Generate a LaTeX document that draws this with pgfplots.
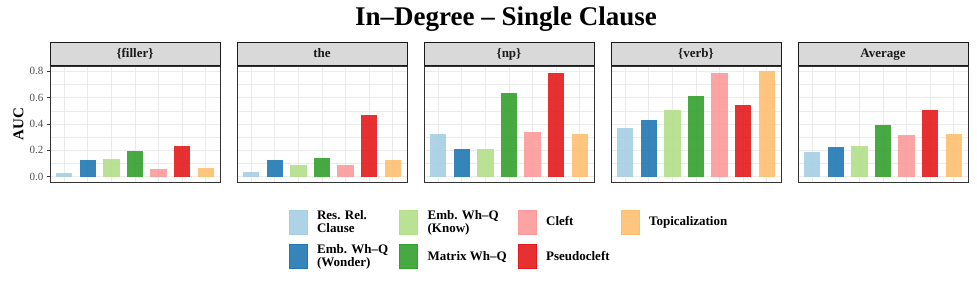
\documentclass[border=0pt]{standalone}
\usepackage{pgfplots}
\pgfplotsset{compat=1.18}
\usepackage{fontspec}
\setmainfont{Liberation Serif}
\definecolor{c1}{HTML}{A6CEE3}
\definecolor{c2}{HTML}{1F78B4}
\definecolor{c3}{HTML}{B2DF8A}
\definecolor{c4}{HTML}{33A02C}
\definecolor{c5}{HTML}{FB9A99}
\definecolor{c6}{HTML}{E31A1C}
\definecolor{c7}{HTML}{FDBF6F}
\definecolor{grey92}{HTML}{EBEBEB}
\definecolor{grey20}{HTML}{333333}
\definecolor{grey30}{HTML}{4D4D4D}
\definecolor{grey10}{HTML}{1A1A1A}
\definecolor{stripfill}{HTML}{D9D9D9}
\pgfplotsset{
  panel/.style={
    width=170pt, height=116pt, scale only axis, anchor=south west,
    xmin=0.4, xmax=7.6, ymin=-0.04, ymax=0.84,
    xtick={1,...,7}, xticklabels={}, xtick style={draw=none},
    ytick={0,0.2,0.4,0.6,0.8}, minor ytick={0.1,0.3,0.5,0.7},
    minor tick length=0pt, minor tick style={draw=none},
    grid=both,
    major grid style={draw=grey92, line width=0.9pt},
    minor grid style={draw=grey92, line width=0.45pt},
    axis line style={draw=grey20, line width=0.6pt},
    tick pos=left, tick align=outside, major tick length=3pt,
    /pgf/number format/assume math mode=true,
    every axis title shift=0pt,
    title style={at={(0.5,1)}, anchor=south, draw=grey10, line width=0.9pt,
      fill=stripfill, minimum width=170pt, minimum height=23pt, inner sep=0pt,
      text height=9pt, text depth=2.5pt, text=grey10,
      font=\fontsize{13}{14}\selectfont\bfseries, yshift=0pt},
  },
  bar/.style={ybar, bar width=0.7, bar shift=0pt, draw=none, fill=#1, fill opacity=0.9, forget plot},
  lk/.style={legend image code/.code={\fill[#1, fill opacity=0.9] (0pt,-12pt) rectangle (18pt,12pt);}},
}
\newcommand\bars[7]{%
  \addplot[bar=c1] coordinates {(1,#1)};
  \addplot[bar=c2] coordinates {(2,#2)};
  \addplot[bar=c3] coordinates {(3,#3)};
  \addplot[bar=c4] coordinates {(4,#4)};
  \addplot[bar=c5] coordinates {(5,#5)};
  \addplot[bar=c6] coordinates {(6,#6)};
  \addplot[bar=c7] coordinates {(7,#7)};
}
\begin{document}
\begin{tikzpicture}
\useasboundingbox (0,0) rectangle (977pt,285pt);
% panel 1
\begin{axis}[panel, at={(50pt,103pt)}, title={\{filler\}},
  ytick style={draw=grey20, line width=0.7pt},
  yticklabel style={font=\fontsize{11}{11}\selectfont, text=grey30,
    /pgf/number format/.cd, fixed, fixed zerofill, precision=1}]
\bars{0.025}{0.125}{0.135}{0.197}{0.059}{0.235}{0.066}
\end{axis}
% panel 2
\begin{axis}[panel, at={(237pt,103pt)}, title={the},
  yticklabels={}, ytick style={draw=none}]
\bars{0.036}{0.125}{0.092}{0.141}{0.092}{0.465}{0.128}
\end{axis}
% panel 3
\begin{axis}[panel, at={(424pt,103pt)}, title={\{np\}},
  yticklabels={}, ytick style={draw=none},
  legend style={at={(0.5,-0.225)}, anchor=north, draw=none, fill=none,
    font=\fontsize{13}{13}\selectfont\bfseries, text=black,
    cells={anchor=west, align=left},
    /tikz/every odd column/.append style={column sep=8pt},
    /tikz/every even column/.append style={column sep=9pt},
    row sep=7pt, inner sep=0pt},
  legend columns=4, legend cell align=left]
\bars{0.325}{0.21}{0.212}{0.639}{0.343}{0.787}{0.322}
\addlegendimage{lk=c1}\addlegendentry{Res. Rel.\\Clause}
\addlegendimage{lk=c3}\addlegendentry{Emb. Wh--Q\\(Know)}
\addlegendimage{lk=c5}\addlegendentry{Cleft}
\addlegendimage{lk=c7}\addlegendentry{Topicalization}
\addlegendimage{lk=c2}\addlegendentry{Emb. Wh--Q\\(Wonder)}
\addlegendimage{lk=c4}\addlegendentry{Matrix Wh--Q}
\addlegendimage{lk=c6}\addlegendentry{Pseudocleft}
\addlegendimage{empty legend}\addlegendentry{}
\end{axis}
% panel 4
\begin{axis}[panel, at={(611pt,103pt)}, title={\{verb\}},
  yticklabels={}, ytick style={draw=none}]
\bars{0.366}{0.43}{0.504}{0.611}{0.787}{0.542}{0.805}
\end{axis}
% panel 5
\begin{axis}[panel, at={(798pt,103pt)}, title={Average},
  yticklabels={}, ytick style={draw=none}]
\bars{0.189}{0.222}{0.235}{0.396}{0.32}{0.509}{0.327}
\end{axis}
\node[anchor=base, font=\fontsize{27}{29}\selectfont\bfseries, text=black] at (506pt,260pt) {In--Degree -- Single Clause};
\node[rotate=90, font=\fontsize{15}{16}\selectfont\bfseries, text=black] at (18.5pt,161pt) {AUC};
\end{tikzpicture}
\end{document}
